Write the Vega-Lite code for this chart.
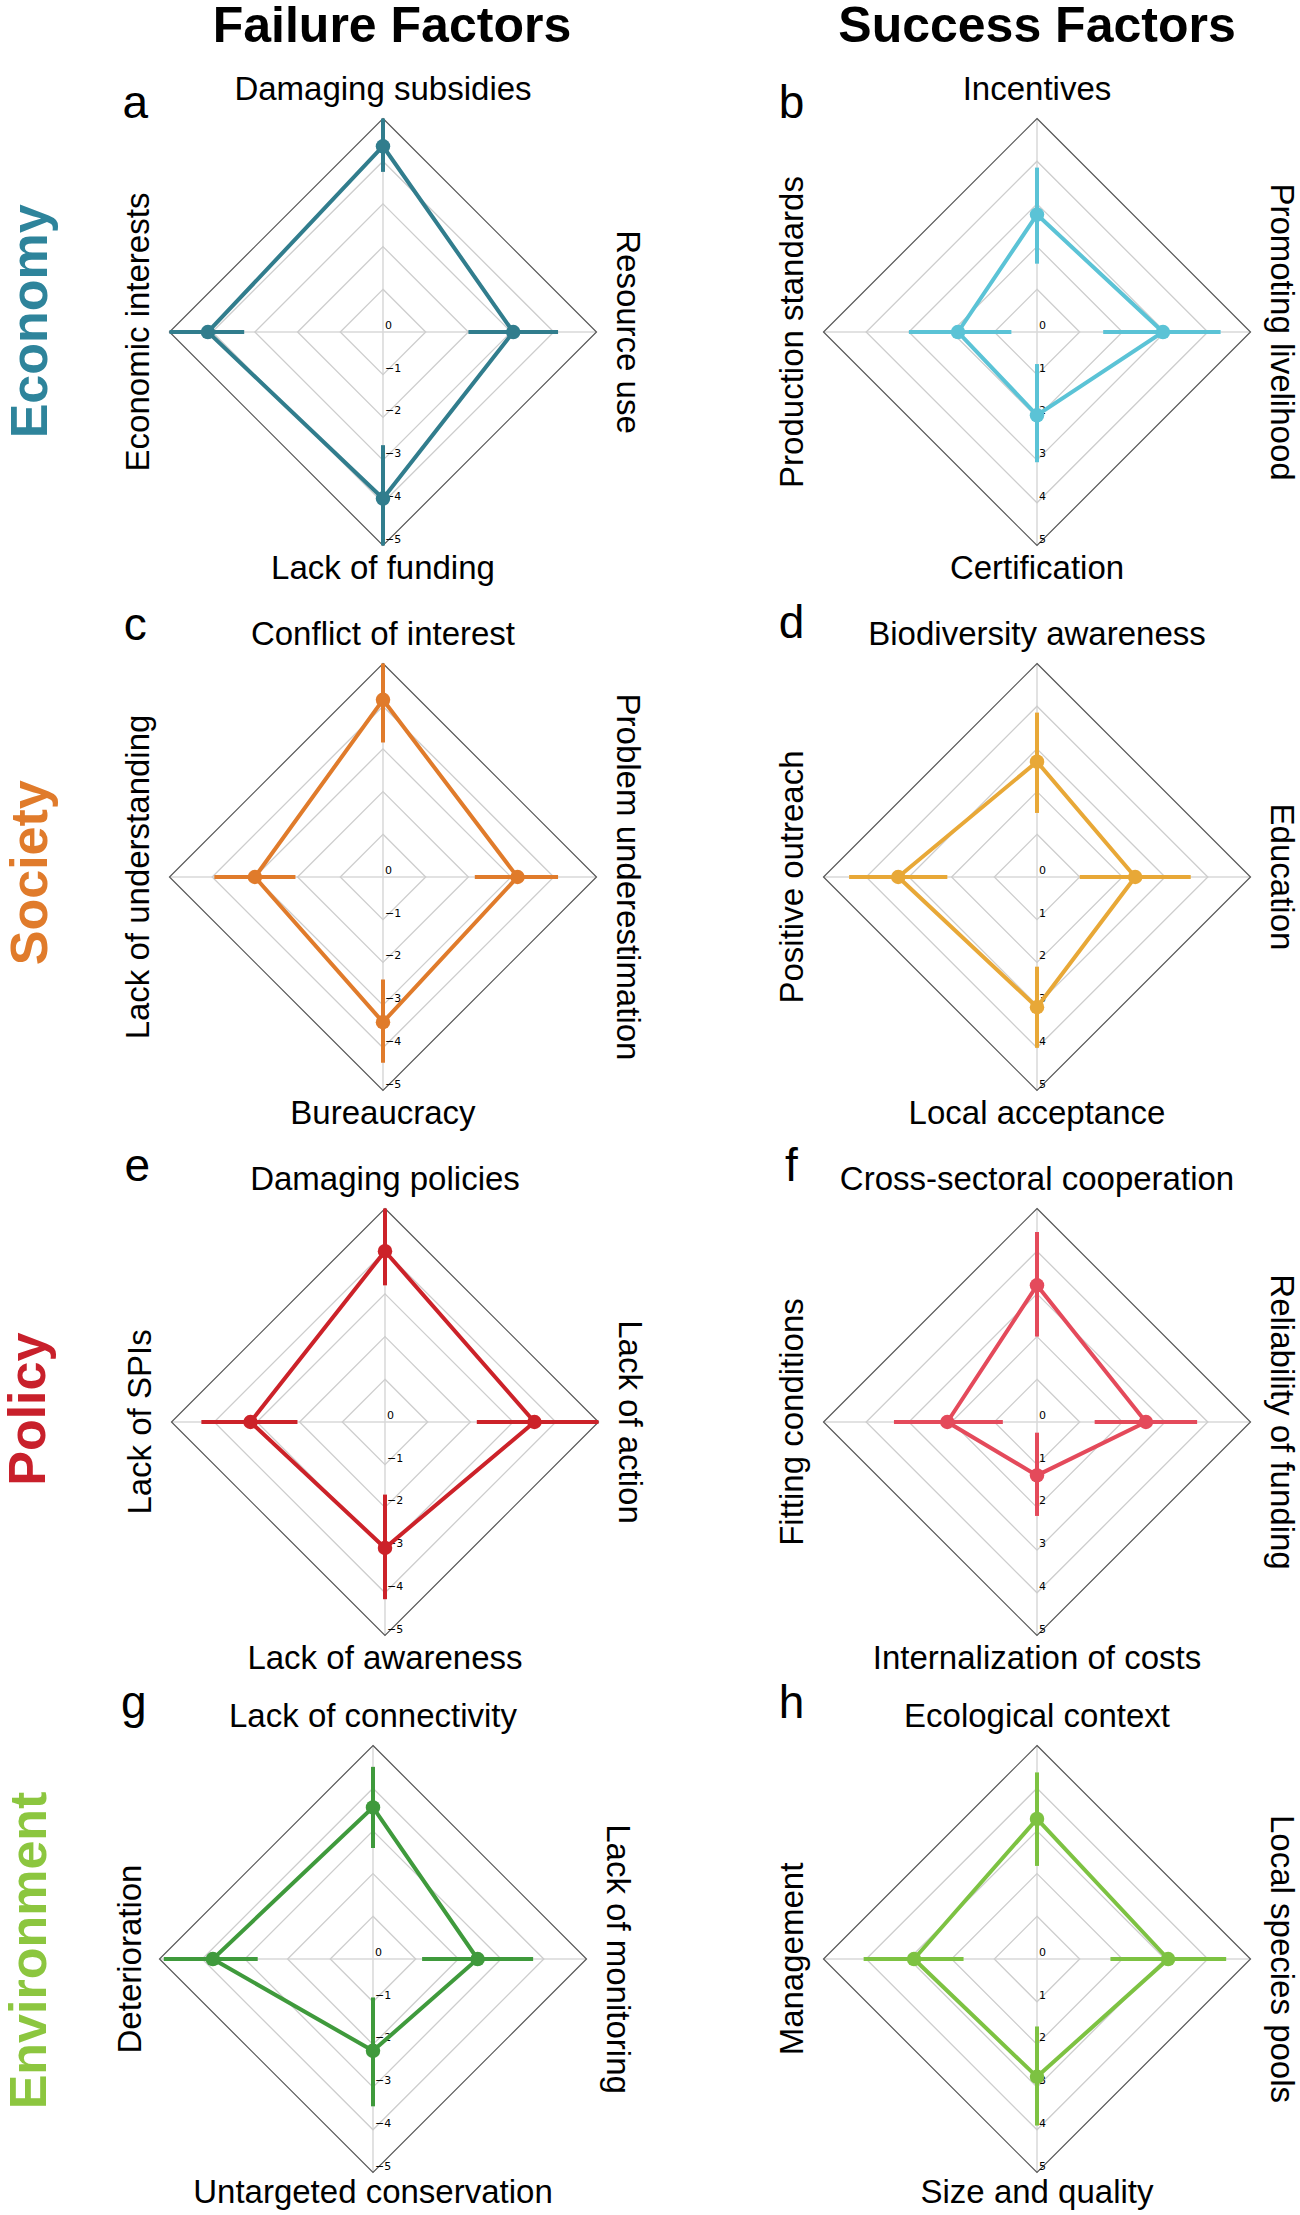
{
"$schema": "https://vega.github.io/schema/vega-lite/v6.json",
"background": "white",
"padding": 0,
"spacing": 0,
"config": {
  "view": {"stroke": null},
  "axis": {"disable": true},
  "style": {
    "lab": {"font": "Liberation Sans", "fontSize": 33, "fill": "#111111"},
    "letter": {"font": "Liberation Sans", "fontSize": 46, "fill": "#111111", "align": "center", "baseline": "alphabetic"},
    "rowtitle": {"font": "Liberation Sans", "fontSize": 52, "fontWeight": "bold", "angle": 270, "align": "center", "baseline": "middle"},
    "coltitle": {"font": "Liberation Sans", "fontSize": 50, "fontWeight": "bold", "fill": "#000000", "align": "center", "baseline": "alphabetic"},
    "tick": {"font": "DejaVu Sans", "fontSize": 11, "fill": "#444444", "align": "left", "baseline": "alphabetic", "dx": 2, "dy": -3}
  }
},
"datasets": {
  "spokes": [{"x": -5, "y": 0, "x2": 5, "y2": 0}, {"x": 0, "y": -5, "x2": 0, "y2": 5}],
  "rings": [
    {"ring": 1, "ord": 1, "x": 0, "y": 1}, {"ring": 1, "ord": 2, "x": 1, "y": 0}, {"ring": 1, "ord": 3, "x": 0, "y": -1}, {"ring": 1, "ord": 4, "x": -1, "y": 0},
    {"ring": 2, "ord": 1, "x": 0, "y": 2}, {"ring": 2, "ord": 2, "x": 2, "y": 0}, {"ring": 2, "ord": 3, "x": 0, "y": -2}, {"ring": 2, "ord": 4, "x": -2, "y": 0},
    {"ring": 3, "ord": 1, "x": 0, "y": 3}, {"ring": 3, "ord": 2, "x": 3, "y": 0}, {"ring": 3, "ord": 3, "x": 0, "y": -3}, {"ring": 3, "ord": 4, "x": -3, "y": 0},
    {"ring": 4, "ord": 1, "x": 0, "y": 4}, {"ring": 4, "ord": 2, "x": 4, "y": 0}, {"ring": 4, "ord": 3, "x": 0, "y": -4}, {"ring": 4, "ord": 4, "x": -4, "y": 0},
    {"ring": 5, "ord": 1, "x": 0, "y": 5}, {"ring": 5, "ord": 2, "x": 5, "y": 0}, {"ring": 5, "ord": 3, "x": 0, "y": -5}, {"ring": 5, "ord": 4, "x": -5, "y": 0}
  ],
  "ticks": [
    {"y": 0, "fail": "0", "succ": "0"}, {"y": -1, "fail": "−1", "succ": "1"}, {"y": -2, "fail": "−2", "succ": "2"},
    {"y": -3, "fail": "−3", "succ": "3"}, {"y": -4, "fail": "−4", "succ": "4"}, {"y": -5, "fail": "−5", "succ": "5"}
  ],
  "panels": [
    {"panel": "a", "letter": "a", "group": "Economy", "column": "Failure Factors"},
    {"panel": "b", "letter": "b", "group": "Economy", "column": "Success Factors"},
    {"panel": "c", "letter": "c", "group": "Society", "column": "Failure Factors"},
    {"panel": "d", "letter": "d", "group": "Society", "column": "Success Factors"},
    {"panel": "e", "letter": "e", "group": "Policy", "column": "Failure Factors"},
    {"panel": "f", "letter": "f", "group": "Policy", "column": "Success Factors"},
    {"panel": "g", "letter": "g", "group": "Environment", "column": "Failure Factors"},
    {"panel": "h", "letter": "h", "group": "Environment", "column": "Success Factors"}
  ],
  "factors": [
    {"panel": "a", "factor": "Damaging subsidies", "side": "top", "order": 1, "x": 0, "y": 4.35, "xlo": 0, "xhi": 0, "ylo": 3.75, "yhi": 5.0},
    {"panel": "a", "factor": "Resource use", "side": "right", "order": 2, "x": 3.05, "y": 0, "xlo": 2.0, "xhi": 4.1, "ylo": 0, "yhi": 0},
    {"panel": "a", "factor": "Lack of funding", "side": "bottom", "order": 3, "x": 0, "y": -3.9, "xlo": 0, "xhi": 0, "ylo": -2.65, "yhi": -5.0},
    {"panel": "a", "factor": "Economic interests", "side": "left", "order": 4, "x": -4.1, "y": 0, "xlo": -3.25, "xhi": -5.0, "ylo": 0, "yhi": 0},

    {"panel": "b", "factor": "Incentives", "side": "top", "order": 1, "x": 0, "y": 2.75, "xlo": 0, "xhi": 0, "ylo": 1.6, "yhi": 3.85},
    {"panel": "b", "factor": "Promoting livelihood", "side": "right", "order": 2, "x": 2.95, "y": 0, "xlo": 1.55, "xhi": 4.3, "ylo": 0, "yhi": 0},
    {"panel": "b", "factor": "Certification", "side": "bottom", "order": 3, "x": 0, "y": -1.95, "xlo": 0, "xhi": 0, "ylo": -0.75, "yhi": -3.05},
    {"panel": "b", "factor": "Production standards", "side": "left", "order": 4, "x": -1.85, "y": 0, "xlo": -0.6, "xhi": -3.0, "ylo": 0, "yhi": 0},

    {"panel": "c", "factor": "Conflict of interest", "side": "top", "order": 1, "x": 0, "y": 4.15, "xlo": 0, "xhi": 0, "ylo": 3.15, "yhi": 5.0},
    {"panel": "c", "factor": "Problem underestimation", "side": "right", "order": 2, "x": 3.15, "y": 0, "xlo": 2.15, "xhi": 4.1, "ylo": 0, "yhi": 0},
    {"panel": "c", "factor": "Bureaucracy", "side": "bottom", "order": 3, "x": 0, "y": -3.4, "xlo": 0, "xhi": 0, "ylo": -2.4, "yhi": -4.35},
    {"panel": "c", "factor": "Lack of understanding", "side": "left", "order": 4, "x": -3.0, "y": 0, "xlo": -2.05, "xhi": -3.95, "ylo": 0, "yhi": 0},

    {"panel": "d", "factor": "Biodiversity awareness", "side": "top", "order": 1, "x": 0, "y": 2.7, "xlo": 0, "xhi": 0, "ylo": 1.5, "yhi": 3.85},
    {"panel": "d", "factor": "Education", "side": "right", "order": 2, "x": 2.3, "y": 0, "xlo": 1.0, "xhi": 3.6, "ylo": 0, "yhi": 0},
    {"panel": "d", "factor": "Local acceptance", "side": "bottom", "order": 3, "x": 0, "y": -3.05, "xlo": 0, "xhi": 0, "ylo": -2.1, "yhi": -4.0},
    {"panel": "d", "factor": "Positive outreach", "side": "left", "order": 4, "x": -3.25, "y": 0, "xlo": -2.1, "xhi": -4.4, "ylo": 0, "yhi": 0},

    {"panel": "e", "factor": "Damaging policies", "side": "top", "order": 1, "x": 0, "y": 4.0, "xlo": 0, "xhi": 0, "ylo": 3.2, "yhi": 5.0},
    {"panel": "e", "factor": "Lack of action", "side": "right", "order": 2, "x": 3.5, "y": 0, "xlo": 2.15, "xhi": 5.0, "ylo": 0, "yhi": 0},
    {"panel": "e", "factor": "Lack of awareness", "side": "bottom", "order": 3, "x": 0, "y": -2.95, "xlo": 0, "xhi": 0, "ylo": -1.7, "yhi": -4.15},
    {"panel": "e", "factor": "Lack of SPIs", "side": "left", "order": 4, "x": -3.15, "y": 0, "xlo": -2.05, "xhi": -4.3, "ylo": 0, "yhi": 0},

    {"panel": "f", "factor": "Cross-sectoral cooperation", "side": "top", "order": 1, "x": 0, "y": 3.2, "xlo": 0, "xhi": 0, "ylo": 2.0, "yhi": 4.45},
    {"panel": "f", "factor": "Reliability of funding", "side": "right", "order": 2, "x": 2.55, "y": 0, "xlo": 1.35, "xhi": 3.75, "ylo": 0, "yhi": 0},
    {"panel": "f", "factor": "Internalization of costs", "side": "bottom", "order": 3, "x": 0, "y": -1.25, "xlo": 0, "xhi": 0, "ylo": -0.25, "yhi": -2.2},
    {"panel": "f", "factor": "Fitting conditions", "side": "left", "order": 4, "x": -2.1, "y": 0, "xlo": -0.8, "xhi": -3.35, "ylo": 0, "yhi": 0},

    {"panel": "g", "factor": "Lack of connectivity", "side": "top", "order": 1, "x": 0, "y": 3.55, "xlo": 0, "xhi": 0, "ylo": 2.6, "yhi": 4.5},
    {"panel": "g", "factor": "Lack of monitoring", "side": "right", "order": 2, "x": 2.45, "y": 0, "xlo": 1.15, "xhi": 3.75, "ylo": 0, "yhi": 0},
    {"panel": "g", "factor": "Untargeted conservation", "side": "bottom", "order": 3, "x": 0, "y": -2.15, "xlo": 0, "xhi": 0, "ylo": -0.9, "yhi": -3.45},
    {"panel": "g", "factor": "Deterioration", "side": "left", "order": 4, "x": -3.75, "y": 0, "xlo": -2.7, "xhi": -4.9, "ylo": 0, "yhi": 0},

    {"panel": "h", "factor": "Ecological context", "side": "top", "order": 1, "x": 0, "y": 3.28, "xlo": 0, "xhi": 0, "ylo": 2.18, "yhi": 4.37},
    {"panel": "h", "factor": "Local species pools", "side": "right", "order": 2, "x": 3.07, "y": 0, "xlo": 1.72, "xhi": 4.43, "ylo": 0, "yhi": 0},
    {"panel": "h", "factor": "Size and quality", "side": "bottom", "order": 3, "x": 0, "y": -2.76, "xlo": 0, "xhi": 0, "ylo": -1.58, "yhi": -3.9},
    {"panel": "h", "factor": "Management", "side": "left", "order": 4, "x": -2.88, "y": 0, "xlo": -1.72, "xhi": -4.06, "ylo": 0, "yhi": 0}
  ]
},
"vconcat": [
 {"spacing": 0, "hconcat": [
  {"width": 650, "height": 595, "layer": [
   {"data": {"name": "spokes"}, "mark": {"type": "rule", "color": "#d8d8d8", "strokeWidth": 1.5}, "encoding": {"x": {"field": "x", "type": "quantitative", "scale": {"domain": [-8.969, 6.253], "nice": false, "zero": false}}, "x2": {"field": "x2"}, "y": {"field": "y", "type": "quantitative", "scale": {"domain": [-6.159, 7.775], "nice": false, "zero": false}}, "y2": {"field": "y2"}}},
   {"data": {"name": "rings"}, "transform": [{"filter": "datum.ring < 5"}], "mark": {"type": "line", "interpolate": "linear-closed", "color": "#cdcdcd", "strokeWidth": 1.3}, "encoding": {"x": {"field": "x", "type": "quantitative"}, "y": {"field": "y", "type": "quantitative"}, "detail": {"field": "ring", "type": "nominal"}, "order": {"field": "ord", "type": "quantitative"}}},
   {"data": {"name": "rings"}, "transform": [{"filter": "datum.ring == 5"}], "mark": {"type": "line", "interpolate": "linear-closed", "color": "#555555", "strokeWidth": 1.2}, "encoding": {"x": {"field": "x", "type": "quantitative"}, "y": {"field": "y", "type": "quantitative"}, "order": {"field": "ord", "type": "quantitative"}}},
   {"data": {"name": "ticks"}, "mark": {"type": "text", "style": "tick"}, "encoding": {"x": {"datum": 0, "type": "quantitative"}, "y": {"field": "y", "type": "quantitative"}, "text": {"field": "fail"}}},
   {"data": {"name": "factors"}, "transform": [{"filter": "datum.panel == 'a'"}], "mark": {"type": "rule", "color": "#317d8d", "strokeWidth": 4}, "encoding": {"x": {"field": "xlo", "type": "quantitative"}, "x2": {"field": "xhi"}, "y": {"field": "ylo", "type": "quantitative"}, "y2": {"field": "yhi"}}},
   {"data": {"name": "factors"}, "transform": [{"filter": "datum.panel == 'a'"}], "mark": {"type": "line", "interpolate": "linear-closed", "color": "#317d8d", "strokeWidth": 4}, "encoding": {"x": {"field": "x", "type": "quantitative"}, "y": {"field": "y", "type": "quantitative"}, "order": {"field": "order", "type": "quantitative"}}},
   {"data": {"name": "factors"}, "transform": [{"filter": "datum.panel == 'a'"}], "mark": {"type": "circle", "color": "#317d8d", "size": 210, "opacity": 1}, "encoding": {"x": {"field": "x", "type": "quantitative"}, "y": {"field": "y", "type": "quantitative"}}},
   {"data": {"name": "factors"}, "transform": [{"filter": "datum.panel == 'a' && datum.side == 'top'"}], "mark": {"type": "text", "style": "lab", "baseline": "alphabetic"}, "encoding": {"x": {"datum": 0, "type": "quantitative"}, "y": {"datum": 5.44, "type": "quantitative"}, "text": {"field": "factor"}}},
   {"data": {"name": "factors"}, "transform": [{"filter": "datum.panel == 'a' && datum.side == 'bottom'"}], "mark": {"type": "text", "style": "lab", "baseline": "alphabetic"}, "encoding": {"x": {"datum": 0, "type": "quantitative"}, "y": {"datum": -5.78, "type": "quantitative"}, "text": {"field": "factor"}}},
   {"data": {"name": "factors"}, "transform": [{"filter": "datum.panel == 'a' && datum.side == 'right'"}], "mark": {"type": "text", "style": "lab", "angle": 90, "baseline": "middle"}, "encoding": {"x": {"datum": 5.72, "type": "quantitative"}, "y": {"datum": 0, "type": "quantitative"}, "text": {"field": "factor"}}},
   {"data": {"name": "factors"}, "transform": [{"filter": "datum.panel == 'a' && datum.side == 'left'"}], "mark": {"type": "text", "style": "lab", "angle": 270, "baseline": "middle"}, "encoding": {"x": {"datum": -5.72, "type": "quantitative"}, "y": {"datum": 0, "type": "quantitative"}, "text": {"field": "factor"}}},
   {"data": {"name": "panels"}, "transform": [{"filter": "datum.panel == 'a'"}], "mark": {"type": "text", "style": "letter"}, "encoding": {"x": {"datum": -5.8, "type": "quantitative"}, "y": {"datum": 5.0, "type": "quantitative"}, "text": {"field": "letter"}}},
   {"data": {"name": "panels"}, "transform": [{"filter": "datum.panel == 'a'"}], "mark": {"type": "text", "style": "rowtitle", "fill": "#2e849b"}, "encoding": {"x": {"datum": -8.25, "type": "quantitative"}, "y": {"datum": 0.25, "type": "quantitative"}, "text": {"field": "group"}}},
   {"data": {"name": "panels"}, "transform": [{"filter": "datum.panel == 'a'"}], "mark": {"type": "text", "style": "coltitle"}, "encoding": {"x": {"datum": 0.21, "type": "quantitative"}, "y": {"datum": 6.78, "type": "quantitative"}, "text": {"field": "column"}}}
  ]},
  {"width": 650, "height": 595, "layer": [
   {"data": {"name": "spokes"}, "mark": {"type": "rule", "color": "#d8d8d8", "strokeWidth": 1.5}, "encoding": {"x": {"field": "x", "type": "quantitative", "scale": {"domain": [-9.063, 6.159], "nice": false, "zero": false}}, "x2": {"field": "x2"}, "y": {"field": "y", "type": "quantitative", "scale": {"domain": [-6.159, 7.775], "nice": false, "zero": false}}, "y2": {"field": "y2"}}},
   {"data": {"name": "rings"}, "transform": [{"filter": "datum.ring < 5"}], "mark": {"type": "line", "interpolate": "linear-closed", "color": "#cdcdcd", "strokeWidth": 1.3}, "encoding": {"x": {"field": "x", "type": "quantitative"}, "y": {"field": "y", "type": "quantitative"}, "detail": {"field": "ring", "type": "nominal"}, "order": {"field": "ord", "type": "quantitative"}}},
   {"data": {"name": "rings"}, "transform": [{"filter": "datum.ring == 5"}], "mark": {"type": "line", "interpolate": "linear-closed", "color": "#555555", "strokeWidth": 1.2}, "encoding": {"x": {"field": "x", "type": "quantitative"}, "y": {"field": "y", "type": "quantitative"}, "order": {"field": "ord", "type": "quantitative"}}},
   {"data": {"name": "ticks"}, "mark": {"type": "text", "style": "tick"}, "encoding": {"x": {"datum": 0, "type": "quantitative"}, "y": {"field": "y", "type": "quantitative"}, "text": {"field": "succ"}}},
   {"data": {"name": "factors"}, "transform": [{"filter": "datum.panel == 'b'"}], "mark": {"type": "rule", "color": "#5bc3d6", "strokeWidth": 4}, "encoding": {"x": {"field": "xlo", "type": "quantitative"}, "x2": {"field": "xhi"}, "y": {"field": "ylo", "type": "quantitative"}, "y2": {"field": "yhi"}}},
   {"data": {"name": "factors"}, "transform": [{"filter": "datum.panel == 'b'"}], "mark": {"type": "line", "interpolate": "linear-closed", "color": "#5bc3d6", "strokeWidth": 4}, "encoding": {"x": {"field": "x", "type": "quantitative"}, "y": {"field": "y", "type": "quantitative"}, "order": {"field": "order", "type": "quantitative"}}},
   {"data": {"name": "factors"}, "transform": [{"filter": "datum.panel == 'b'"}], "mark": {"type": "circle", "color": "#5bc3d6", "size": 210, "opacity": 1}, "encoding": {"x": {"field": "x", "type": "quantitative"}, "y": {"field": "y", "type": "quantitative"}}},
   {"data": {"name": "factors"}, "transform": [{"filter": "datum.panel == 'b' && datum.side == 'top'"}], "mark": {"type": "text", "style": "lab", "baseline": "alphabetic"}, "encoding": {"x": {"datum": 0, "type": "quantitative"}, "y": {"datum": 5.44, "type": "quantitative"}, "text": {"field": "factor"}}},
   {"data": {"name": "factors"}, "transform": [{"filter": "datum.panel == 'b' && datum.side == 'bottom'"}], "mark": {"type": "text", "style": "lab", "baseline": "alphabetic"}, "encoding": {"x": {"datum": 0, "type": "quantitative"}, "y": {"datum": -5.78, "type": "quantitative"}, "text": {"field": "factor"}}},
   {"data": {"name": "factors"}, "transform": [{"filter": "datum.panel == 'b' && datum.side == 'right'"}], "mark": {"type": "text", "style": "lab", "angle": 90, "baseline": "middle"}, "encoding": {"x": {"datum": 5.72, "type": "quantitative"}, "y": {"datum": 0, "type": "quantitative"}, "text": {"field": "factor"}}},
   {"data": {"name": "factors"}, "transform": [{"filter": "datum.panel == 'b' && datum.side == 'left'"}], "mark": {"type": "text", "style": "lab", "angle": 270, "baseline": "middle"}, "encoding": {"x": {"datum": -5.72, "type": "quantitative"}, "y": {"datum": 0, "type": "quantitative"}, "text": {"field": "factor"}}},
   {"data": {"name": "panels"}, "transform": [{"filter": "datum.panel == 'b'"}], "mark": {"type": "text", "style": "letter"}, "encoding": {"x": {"datum": -5.75, "type": "quantitative"}, "y": {"datum": 5.0, "type": "quantitative"}, "text": {"field": "letter"}}},
   {"data": {"name": "panels"}, "transform": [{"filter": "datum.panel == 'b'"}], "mark": {"type": "text", "style": "coltitle"}, "encoding": {"x": {"datum": 0.0, "type": "quantitative"}, "y": {"datum": 6.78, "type": "quantitative"}, "text": {"field": "column"}}}
  ]}
 ]},
 {"spacing": 0, "hconcat": [
  {"width": 650, "height": 545, "layer": [
   {"data": {"name": "spokes"}, "mark": {"type": "rule", "color": "#d8d8d8", "strokeWidth": 1.5}, "encoding": {"x": {"field": "x", "type": "quantitative", "scale": {"domain": [-8.969, 6.253], "nice": false, "zero": false}}, "x2": {"field": "x2"}, "y": {"field": "y", "type": "quantitative", "scale": {"domain": [-6.159, 6.604], "nice": false, "zero": false}}, "y2": {"field": "y2"}}},
   {"data": {"name": "rings"}, "transform": [{"filter": "datum.ring < 5"}], "mark": {"type": "line", "interpolate": "linear-closed", "color": "#cdcdcd", "strokeWidth": 1.3}, "encoding": {"x": {"field": "x", "type": "quantitative"}, "y": {"field": "y", "type": "quantitative"}, "detail": {"field": "ring", "type": "nominal"}, "order": {"field": "ord", "type": "quantitative"}}},
   {"data": {"name": "rings"}, "transform": [{"filter": "datum.ring == 5"}], "mark": {"type": "line", "interpolate": "linear-closed", "color": "#555555", "strokeWidth": 1.2}, "encoding": {"x": {"field": "x", "type": "quantitative"}, "y": {"field": "y", "type": "quantitative"}, "order": {"field": "ord", "type": "quantitative"}}},
   {"data": {"name": "ticks"}, "mark": {"type": "text", "style": "tick"}, "encoding": {"x": {"datum": 0, "type": "quantitative"}, "y": {"field": "y", "type": "quantitative"}, "text": {"field": "fail"}}},
   {"data": {"name": "factors"}, "transform": [{"filter": "datum.panel == 'c'"}], "mark": {"type": "rule", "color": "#e07b2b", "strokeWidth": 4}, "encoding": {"x": {"field": "xlo", "type": "quantitative"}, "x2": {"field": "xhi"}, "y": {"field": "ylo", "type": "quantitative"}, "y2": {"field": "yhi"}}},
   {"data": {"name": "factors"}, "transform": [{"filter": "datum.panel == 'c'"}], "mark": {"type": "line", "interpolate": "linear-closed", "color": "#e07b2b", "strokeWidth": 4}, "encoding": {"x": {"field": "x", "type": "quantitative"}, "y": {"field": "y", "type": "quantitative"}, "order": {"field": "order", "type": "quantitative"}}},
   {"data": {"name": "factors"}, "transform": [{"filter": "datum.panel == 'c'"}], "mark": {"type": "circle", "color": "#e07b2b", "size": 210, "opacity": 1}, "encoding": {"x": {"field": "x", "type": "quantitative"}, "y": {"field": "y", "type": "quantitative"}}},
   {"data": {"name": "factors"}, "transform": [{"filter": "datum.panel == 'c' && datum.side == 'top'"}], "mark": {"type": "text", "style": "lab", "baseline": "alphabetic"}, "encoding": {"x": {"datum": 0, "type": "quantitative"}, "y": {"datum": 5.44, "type": "quantitative"}, "text": {"field": "factor"}}},
   {"data": {"name": "factors"}, "transform": [{"filter": "datum.panel == 'c' && datum.side == 'bottom'"}], "mark": {"type": "text", "style": "lab", "baseline": "alphabetic"}, "encoding": {"x": {"datum": 0, "type": "quantitative"}, "y": {"datum": -5.78, "type": "quantitative"}, "text": {"field": "factor"}}},
   {"data": {"name": "factors"}, "transform": [{"filter": "datum.panel == 'c' && datum.side == 'right'"}], "mark": {"type": "text", "style": "lab", "angle": 90, "baseline": "middle"}, "encoding": {"x": {"datum": 5.72, "type": "quantitative"}, "y": {"datum": 0, "type": "quantitative"}, "text": {"field": "factor"}}},
   {"data": {"name": "factors"}, "transform": [{"filter": "datum.panel == 'c' && datum.side == 'left'"}], "mark": {"type": "text", "style": "lab", "angle": 270, "baseline": "middle"}, "encoding": {"x": {"datum": -5.72, "type": "quantitative"}, "y": {"datum": 0, "type": "quantitative"}, "text": {"field": "factor"}}},
   {"data": {"name": "panels"}, "transform": [{"filter": "datum.panel == 'c'"}], "mark": {"type": "text", "style": "letter"}, "encoding": {"x": {"datum": -5.8, "type": "quantitative"}, "y": {"datum": 5.55, "type": "quantitative"}, "text": {"field": "letter"}}},
   {"data": {"name": "panels"}, "transform": [{"filter": "datum.panel == 'c'"}], "mark": {"type": "text", "style": "rowtitle", "fill": "#e07b2b"}, "encoding": {"x": {"datum": -8.25, "type": "quantitative"}, "y": {"datum": 0.1, "type": "quantitative"}, "text": {"field": "group"}}}
  ]},
  {"width": 650, "height": 545, "layer": [
   {"data": {"name": "spokes"}, "mark": {"type": "rule", "color": "#d8d8d8", "strokeWidth": 1.5}, "encoding": {"x": {"field": "x", "type": "quantitative", "scale": {"domain": [-9.063, 6.159], "nice": false, "zero": false}}, "x2": {"field": "x2"}, "y": {"field": "y", "type": "quantitative", "scale": {"domain": [-6.159, 6.604], "nice": false, "zero": false}}, "y2": {"field": "y2"}}},
   {"data": {"name": "rings"}, "transform": [{"filter": "datum.ring < 5"}], "mark": {"type": "line", "interpolate": "linear-closed", "color": "#cdcdcd", "strokeWidth": 1.3}, "encoding": {"x": {"field": "x", "type": "quantitative"}, "y": {"field": "y", "type": "quantitative"}, "detail": {"field": "ring", "type": "nominal"}, "order": {"field": "ord", "type": "quantitative"}}},
   {"data": {"name": "rings"}, "transform": [{"filter": "datum.ring == 5"}], "mark": {"type": "line", "interpolate": "linear-closed", "color": "#555555", "strokeWidth": 1.2}, "encoding": {"x": {"field": "x", "type": "quantitative"}, "y": {"field": "y", "type": "quantitative"}, "order": {"field": "ord", "type": "quantitative"}}},
   {"data": {"name": "ticks"}, "mark": {"type": "text", "style": "tick"}, "encoding": {"x": {"datum": 0, "type": "quantitative"}, "y": {"field": "y", "type": "quantitative"}, "text": {"field": "succ"}}},
   {"data": {"name": "factors"}, "transform": [{"filter": "datum.panel == 'd'"}], "mark": {"type": "rule", "color": "#e8a837", "strokeWidth": 4}, "encoding": {"x": {"field": "xlo", "type": "quantitative"}, "x2": {"field": "xhi"}, "y": {"field": "ylo", "type": "quantitative"}, "y2": {"field": "yhi"}}},
   {"data": {"name": "factors"}, "transform": [{"filter": "datum.panel == 'd'"}], "mark": {"type": "line", "interpolate": "linear-closed", "color": "#e8a837", "strokeWidth": 4}, "encoding": {"x": {"field": "x", "type": "quantitative"}, "y": {"field": "y", "type": "quantitative"}, "order": {"field": "order", "type": "quantitative"}}},
   {"data": {"name": "factors"}, "transform": [{"filter": "datum.panel == 'd'"}], "mark": {"type": "circle", "color": "#e8a837", "size": 210, "opacity": 1}, "encoding": {"x": {"field": "x", "type": "quantitative"}, "y": {"field": "y", "type": "quantitative"}}},
   {"data": {"name": "factors"}, "transform": [{"filter": "datum.panel == 'd' && datum.side == 'top'"}], "mark": {"type": "text", "style": "lab", "baseline": "alphabetic"}, "encoding": {"x": {"datum": 0, "type": "quantitative"}, "y": {"datum": 5.44, "type": "quantitative"}, "text": {"field": "factor"}}},
   {"data": {"name": "factors"}, "transform": [{"filter": "datum.panel == 'd' && datum.side == 'bottom'"}], "mark": {"type": "text", "style": "lab", "baseline": "alphabetic"}, "encoding": {"x": {"datum": 0, "type": "quantitative"}, "y": {"datum": -5.78, "type": "quantitative"}, "text": {"field": "factor"}}},
   {"data": {"name": "factors"}, "transform": [{"filter": "datum.panel == 'd' && datum.side == 'right'"}], "mark": {"type": "text", "style": "lab", "angle": 90, "baseline": "middle"}, "encoding": {"x": {"datum": 5.72, "type": "quantitative"}, "y": {"datum": 0, "type": "quantitative"}, "text": {"field": "factor"}}},
   {"data": {"name": "factors"}, "transform": [{"filter": "datum.panel == 'd' && datum.side == 'left'"}], "mark": {"type": "text", "style": "lab", "angle": 270, "baseline": "middle"}, "encoding": {"x": {"datum": -5.72, "type": "quantitative"}, "y": {"datum": 0, "type": "quantitative"}, "text": {"field": "factor"}}},
   {"data": {"name": "panels"}, "transform": [{"filter": "datum.panel == 'd'"}], "mark": {"type": "text", "style": "letter"}, "encoding": {"x": {"datum": -5.75, "type": "quantitative"}, "y": {"datum": 5.6, "type": "quantitative"}, "text": {"field": "letter"}}}
  ]}
 ]},
 {"spacing": 0, "hconcat": [
  {"width": 650, "height": 540, "layer": [
   {"data": {"name": "spokes"}, "mark": {"type": "rule", "color": "#d8d8d8", "strokeWidth": 1.5}, "encoding": {"x": {"field": "x", "type": "quantitative", "scale": {"domain": [-9.016, 6.206], "nice": false, "zero": false}}, "x2": {"field": "x2"}, "y": {"field": "y", "type": "quantitative", "scale": {"domain": [-6.042, 6.604], "nice": false, "zero": false}}, "y2": {"field": "y2"}}},
   {"data": {"name": "rings"}, "transform": [{"filter": "datum.ring < 5"}], "mark": {"type": "line", "interpolate": "linear-closed", "color": "#cdcdcd", "strokeWidth": 1.3}, "encoding": {"x": {"field": "x", "type": "quantitative"}, "y": {"field": "y", "type": "quantitative"}, "detail": {"field": "ring", "type": "nominal"}, "order": {"field": "ord", "type": "quantitative"}}},
   {"data": {"name": "rings"}, "transform": [{"filter": "datum.ring == 5"}], "mark": {"type": "line", "interpolate": "linear-closed", "color": "#555555", "strokeWidth": 1.2}, "encoding": {"x": {"field": "x", "type": "quantitative"}, "y": {"field": "y", "type": "quantitative"}, "order": {"field": "ord", "type": "quantitative"}}},
   {"data": {"name": "ticks"}, "mark": {"type": "text", "style": "tick"}, "encoding": {"x": {"datum": 0, "type": "quantitative"}, "y": {"field": "y", "type": "quantitative"}, "text": {"field": "fail"}}},
   {"data": {"name": "factors"}, "transform": [{"filter": "datum.panel == 'e'"}], "mark": {"type": "rule", "color": "#cc2229", "strokeWidth": 4}, "encoding": {"x": {"field": "xlo", "type": "quantitative"}, "x2": {"field": "xhi"}, "y": {"field": "ylo", "type": "quantitative"}, "y2": {"field": "yhi"}}},
   {"data": {"name": "factors"}, "transform": [{"filter": "datum.panel == 'e'"}], "mark": {"type": "line", "interpolate": "linear-closed", "color": "#cc2229", "strokeWidth": 4}, "encoding": {"x": {"field": "x", "type": "quantitative"}, "y": {"field": "y", "type": "quantitative"}, "order": {"field": "order", "type": "quantitative"}}},
   {"data": {"name": "factors"}, "transform": [{"filter": "datum.panel == 'e'"}], "mark": {"type": "circle", "color": "#cc2229", "size": 210, "opacity": 1}, "encoding": {"x": {"field": "x", "type": "quantitative"}, "y": {"field": "y", "type": "quantitative"}}},
   {"data": {"name": "factors"}, "transform": [{"filter": "datum.panel == 'e' && datum.side == 'top'"}], "mark": {"type": "text", "style": "lab", "baseline": "alphabetic"}, "encoding": {"x": {"datum": 0, "type": "quantitative"}, "y": {"datum": 5.44, "type": "quantitative"}, "text": {"field": "factor"}}},
   {"data": {"name": "factors"}, "transform": [{"filter": "datum.panel == 'e' && datum.side == 'bottom'"}], "mark": {"type": "text", "style": "lab", "baseline": "alphabetic"}, "encoding": {"x": {"datum": 0, "type": "quantitative"}, "y": {"datum": -5.78, "type": "quantitative"}, "text": {"field": "factor"}}},
   {"data": {"name": "factors"}, "transform": [{"filter": "datum.panel == 'e' && datum.side == 'right'"}], "mark": {"type": "text", "style": "lab", "angle": 90, "baseline": "middle"}, "encoding": {"x": {"datum": 5.72, "type": "quantitative"}, "y": {"datum": 0, "type": "quantitative"}, "text": {"field": "factor"}}},
   {"data": {"name": "factors"}, "transform": [{"filter": "datum.panel == 'e' && datum.side == 'left'"}], "mark": {"type": "text", "style": "lab", "angle": 270, "baseline": "middle"}, "encoding": {"x": {"datum": -5.72, "type": "quantitative"}, "y": {"datum": 0, "type": "quantitative"}, "text": {"field": "factor"}}},
   {"data": {"name": "panels"}, "transform": [{"filter": "datum.panel == 'e'"}], "mark": {"type": "text", "style": "letter"}, "encoding": {"x": {"datum": -5.8, "type": "quantitative"}, "y": {"datum": 5.65, "type": "quantitative"}, "text": {"field": "letter"}}},
   {"data": {"name": "panels"}, "transform": [{"filter": "datum.panel == 'e'"}], "mark": {"type": "text", "style": "rowtitle", "fill": "#c8202b"}, "encoding": {"x": {"datum": -8.33, "type": "quantitative"}, "y": {"datum": 0.3, "type": "quantitative"}, "text": {"field": "group"}}}
  ]},
  {"width": 650, "height": 540, "layer": [
   {"data": {"name": "spokes"}, "mark": {"type": "rule", "color": "#d8d8d8", "strokeWidth": 1.5}, "encoding": {"x": {"field": "x", "type": "quantitative", "scale": {"domain": [-9.063, 6.159], "nice": false, "zero": false}}, "x2": {"field": "x2"}, "y": {"field": "y", "type": "quantitative", "scale": {"domain": [-6.042, 6.604], "nice": false, "zero": false}}, "y2": {"field": "y2"}}},
   {"data": {"name": "rings"}, "transform": [{"filter": "datum.ring < 5"}], "mark": {"type": "line", "interpolate": "linear-closed", "color": "#cdcdcd", "strokeWidth": 1.3}, "encoding": {"x": {"field": "x", "type": "quantitative"}, "y": {"field": "y", "type": "quantitative"}, "detail": {"field": "ring", "type": "nominal"}, "order": {"field": "ord", "type": "quantitative"}}},
   {"data": {"name": "rings"}, "transform": [{"filter": "datum.ring == 5"}], "mark": {"type": "line", "interpolate": "linear-closed", "color": "#555555", "strokeWidth": 1.2}, "encoding": {"x": {"field": "x", "type": "quantitative"}, "y": {"field": "y", "type": "quantitative"}, "order": {"field": "ord", "type": "quantitative"}}},
   {"data": {"name": "ticks"}, "mark": {"type": "text", "style": "tick"}, "encoding": {"x": {"datum": 0, "type": "quantitative"}, "y": {"field": "y", "type": "quantitative"}, "text": {"field": "succ"}}},
   {"data": {"name": "factors"}, "transform": [{"filter": "datum.panel == 'f'"}], "mark": {"type": "rule", "color": "#e44a5b", "strokeWidth": 4}, "encoding": {"x": {"field": "xlo", "type": "quantitative"}, "x2": {"field": "xhi"}, "y": {"field": "ylo", "type": "quantitative"}, "y2": {"field": "yhi"}}},
   {"data": {"name": "factors"}, "transform": [{"filter": "datum.panel == 'f'"}], "mark": {"type": "line", "interpolate": "linear-closed", "color": "#e44a5b", "strokeWidth": 4}, "encoding": {"x": {"field": "x", "type": "quantitative"}, "y": {"field": "y", "type": "quantitative"}, "order": {"field": "order", "type": "quantitative"}}},
   {"data": {"name": "factors"}, "transform": [{"filter": "datum.panel == 'f'"}], "mark": {"type": "circle", "color": "#e44a5b", "size": 210, "opacity": 1}, "encoding": {"x": {"field": "x", "type": "quantitative"}, "y": {"field": "y", "type": "quantitative"}}},
   {"data": {"name": "factors"}, "transform": [{"filter": "datum.panel == 'f' && datum.side == 'top'"}], "mark": {"type": "text", "style": "lab", "baseline": "alphabetic"}, "encoding": {"x": {"datum": 0, "type": "quantitative"}, "y": {"datum": 5.44, "type": "quantitative"}, "text": {"field": "factor"}}},
   {"data": {"name": "factors"}, "transform": [{"filter": "datum.panel == 'f' && datum.side == 'bottom'"}], "mark": {"type": "text", "style": "lab", "baseline": "alphabetic"}, "encoding": {"x": {"datum": 0, "type": "quantitative"}, "y": {"datum": -5.78, "type": "quantitative"}, "text": {"field": "factor"}}},
   {"data": {"name": "factors"}, "transform": [{"filter": "datum.panel == 'f' && datum.side == 'right'"}], "mark": {"type": "text", "style": "lab", "angle": 90, "baseline": "middle"}, "encoding": {"x": {"datum": 5.72, "type": "quantitative"}, "y": {"datum": 0, "type": "quantitative"}, "text": {"field": "factor"}}},
   {"data": {"name": "factors"}, "transform": [{"filter": "datum.panel == 'f' && datum.side == 'left'"}], "mark": {"type": "text", "style": "lab", "angle": 270, "baseline": "middle"}, "encoding": {"x": {"datum": -5.72, "type": "quantitative"}, "y": {"datum": 0, "type": "quantitative"}, "text": {"field": "factor"}}},
   {"data": {"name": "panels"}, "transform": [{"filter": "datum.panel == 'f'"}], "mark": {"type": "text", "style": "letter"}, "encoding": {"x": {"datum": -5.75, "type": "quantitative"}, "y": {"datum": 5.65, "type": "quantitative"}, "text": {"field": "letter"}}}
  ]}
 ]},
 {"spacing": 0, "hconcat": [
  {"width": 650, "height": 535, "layer": [
   {"data": {"name": "spokes"}, "mark": {"type": "rule", "color": "#d8d8d8", "strokeWidth": 1.5}, "encoding": {"x": {"field": "x", "type": "quantitative", "scale": {"domain": [-8.735, 6.487], "nice": false, "zero": false}}, "x2": {"field": "x2"}, "y": {"field": "y", "type": "quantitative", "scale": {"domain": [-5.995, 6.534], "nice": false, "zero": false}}, "y2": {"field": "y2"}}},
   {"data": {"name": "rings"}, "transform": [{"filter": "datum.ring < 5"}], "mark": {"type": "line", "interpolate": "linear-closed", "color": "#cdcdcd", "strokeWidth": 1.3}, "encoding": {"x": {"field": "x", "type": "quantitative"}, "y": {"field": "y", "type": "quantitative"}, "detail": {"field": "ring", "type": "nominal"}, "order": {"field": "ord", "type": "quantitative"}}},
   {"data": {"name": "rings"}, "transform": [{"filter": "datum.ring == 5"}], "mark": {"type": "line", "interpolate": "linear-closed", "color": "#555555", "strokeWidth": 1.2}, "encoding": {"x": {"field": "x", "type": "quantitative"}, "y": {"field": "y", "type": "quantitative"}, "order": {"field": "ord", "type": "quantitative"}}},
   {"data": {"name": "ticks"}, "mark": {"type": "text", "style": "tick"}, "encoding": {"x": {"datum": 0, "type": "quantitative"}, "y": {"field": "y", "type": "quantitative"}, "text": {"field": "fail"}}},
   {"data": {"name": "factors"}, "transform": [{"filter": "datum.panel == 'g'"}], "mark": {"type": "rule", "color": "#3f9a3c", "strokeWidth": 4}, "encoding": {"x": {"field": "xlo", "type": "quantitative"}, "x2": {"field": "xhi"}, "y": {"field": "ylo", "type": "quantitative"}, "y2": {"field": "yhi"}}},
   {"data": {"name": "factors"}, "transform": [{"filter": "datum.panel == 'g'"}], "mark": {"type": "line", "interpolate": "linear-closed", "color": "#3f9a3c", "strokeWidth": 4}, "encoding": {"x": {"field": "x", "type": "quantitative"}, "y": {"field": "y", "type": "quantitative"}, "order": {"field": "order", "type": "quantitative"}}},
   {"data": {"name": "factors"}, "transform": [{"filter": "datum.panel == 'g'"}], "mark": {"type": "circle", "color": "#3f9a3c", "size": 210, "opacity": 1}, "encoding": {"x": {"field": "x", "type": "quantitative"}, "y": {"field": "y", "type": "quantitative"}}},
   {"data": {"name": "factors"}, "transform": [{"filter": "datum.panel == 'g' && datum.side == 'top'"}], "mark": {"type": "text", "style": "lab", "baseline": "alphabetic"}, "encoding": {"x": {"datum": 0, "type": "quantitative"}, "y": {"datum": 5.44, "type": "quantitative"}, "text": {"field": "factor"}}},
   {"data": {"name": "factors"}, "transform": [{"filter": "datum.panel == 'g' && datum.side == 'bottom'"}], "mark": {"type": "text", "style": "lab", "baseline": "alphabetic"}, "encoding": {"x": {"datum": 0, "type": "quantitative"}, "y": {"datum": -5.72, "type": "quantitative"}, "text": {"field": "factor"}}},
   {"data": {"name": "factors"}, "transform": [{"filter": "datum.panel == 'g' && datum.side == 'right'"}], "mark": {"type": "text", "style": "lab", "angle": 90, "baseline": "middle"}, "encoding": {"x": {"datum": 5.72, "type": "quantitative"}, "y": {"datum": 0, "type": "quantitative"}, "text": {"field": "factor"}}},
   {"data": {"name": "factors"}, "transform": [{"filter": "datum.panel == 'g' && datum.side == 'left'"}], "mark": {"type": "text", "style": "lab", "angle": 270, "baseline": "middle"}, "encoding": {"x": {"datum": -5.67, "type": "quantitative"}, "y": {"datum": 0, "type": "quantitative"}, "text": {"field": "factor"}}},
   {"data": {"name": "panels"}, "transform": [{"filter": "datum.panel == 'g'"}], "mark": {"type": "text", "style": "letter"}, "encoding": {"x": {"datum": -5.6, "type": "quantitative"}, "y": {"datum": 5.65, "type": "quantitative"}, "text": {"field": "letter"}}},
   {"data": {"name": "panels"}, "transform": [{"filter": "datum.panel == 'g'"}], "mark": {"type": "text", "style": "rowtitle", "fill": "#8cc63f"}, "encoding": {"x": {"datum": -8.03, "type": "quantitative"}, "y": {"datum": 0.2, "type": "quantitative"}, "text": {"field": "group"}}}
  ]},
  {"width": 650, "height": 535, "layer": [
   {"data": {"name": "spokes"}, "mark": {"type": "rule", "color": "#d8d8d8", "strokeWidth": 1.5}, "encoding": {"x": {"field": "x", "type": "quantitative", "scale": {"domain": [-9.063, 6.159], "nice": false, "zero": false}}, "x2": {"field": "x2"}, "y": {"field": "y", "type": "quantitative", "scale": {"domain": [-5.995, 6.534], "nice": false, "zero": false}}, "y2": {"field": "y2"}}},
   {"data": {"name": "rings"}, "transform": [{"filter": "datum.ring < 5"}], "mark": {"type": "line", "interpolate": "linear-closed", "color": "#cdcdcd", "strokeWidth": 1.3}, "encoding": {"x": {"field": "x", "type": "quantitative"}, "y": {"field": "y", "type": "quantitative"}, "detail": {"field": "ring", "type": "nominal"}, "order": {"field": "ord", "type": "quantitative"}}},
   {"data": {"name": "rings"}, "transform": [{"filter": "datum.ring == 5"}], "mark": {"type": "line", "interpolate": "linear-closed", "color": "#555555", "strokeWidth": 1.2}, "encoding": {"x": {"field": "x", "type": "quantitative"}, "y": {"field": "y", "type": "quantitative"}, "order": {"field": "ord", "type": "quantitative"}}},
   {"data": {"name": "ticks"}, "mark": {"type": "text", "style": "tick"}, "encoding": {"x": {"datum": 0, "type": "quantitative"}, "y": {"field": "y", "type": "quantitative"}, "text": {"field": "succ"}}},
   {"data": {"name": "factors"}, "transform": [{"filter": "datum.panel == 'h'"}], "mark": {"type": "rule", "color": "#7dc242", "strokeWidth": 4}, "encoding": {"x": {"field": "xlo", "type": "quantitative"}, "x2": {"field": "xhi"}, "y": {"field": "ylo", "type": "quantitative"}, "y2": {"field": "yhi"}}},
   {"data": {"name": "factors"}, "transform": [{"filter": "datum.panel == 'h'"}], "mark": {"type": "line", "interpolate": "linear-closed", "color": "#7dc242", "strokeWidth": 4}, "encoding": {"x": {"field": "x", "type": "quantitative"}, "y": {"field": "y", "type": "quantitative"}, "order": {"field": "order", "type": "quantitative"}}},
   {"data": {"name": "factors"}, "transform": [{"filter": "datum.panel == 'h'"}], "mark": {"type": "circle", "color": "#7dc242", "size": 210, "opacity": 1}, "encoding": {"x": {"field": "x", "type": "quantitative"}, "y": {"field": "y", "type": "quantitative"}}},
   {"data": {"name": "factors"}, "transform": [{"filter": "datum.panel == 'h' && datum.side == 'top'"}], "mark": {"type": "text", "style": "lab", "baseline": "alphabetic"}, "encoding": {"x": {"datum": 0, "type": "quantitative"}, "y": {"datum": 5.44, "type": "quantitative"}, "text": {"field": "factor"}}},
   {"data": {"name": "factors"}, "transform": [{"filter": "datum.panel == 'h' && datum.side == 'bottom'"}], "mark": {"type": "text", "style": "lab", "baseline": "alphabetic"}, "encoding": {"x": {"datum": 0, "type": "quantitative"}, "y": {"datum": -5.72, "type": "quantitative"}, "text": {"field": "factor"}}},
   {"data": {"name": "factors"}, "transform": [{"filter": "datum.panel == 'h' && datum.side == 'right'"}], "mark": {"type": "text", "style": "lab", "angle": 90, "baseline": "middle"}, "encoding": {"x": {"datum": 5.72, "type": "quantitative"}, "y": {"datum": 0, "type": "quantitative"}, "text": {"field": "factor"}}},
   {"data": {"name": "factors"}, "transform": [{"filter": "datum.panel == 'h' && datum.side == 'left'"}], "mark": {"type": "text", "style": "lab", "angle": 270, "baseline": "middle"}, "encoding": {"x": {"datum": -5.72, "type": "quantitative"}, "y": {"datum": 0, "type": "quantitative"}, "text": {"field": "factor"}}},
   {"data": {"name": "panels"}, "transform": [{"filter": "datum.panel == 'h'"}], "mark": {"type": "text", "style": "letter"}, "encoding": {"x": {"datum": -5.75, "type": "quantitative"}, "y": {"datum": 5.65, "type": "quantitative"}, "text": {"field": "letter"}}}
  ]}
 ]}
]
}
